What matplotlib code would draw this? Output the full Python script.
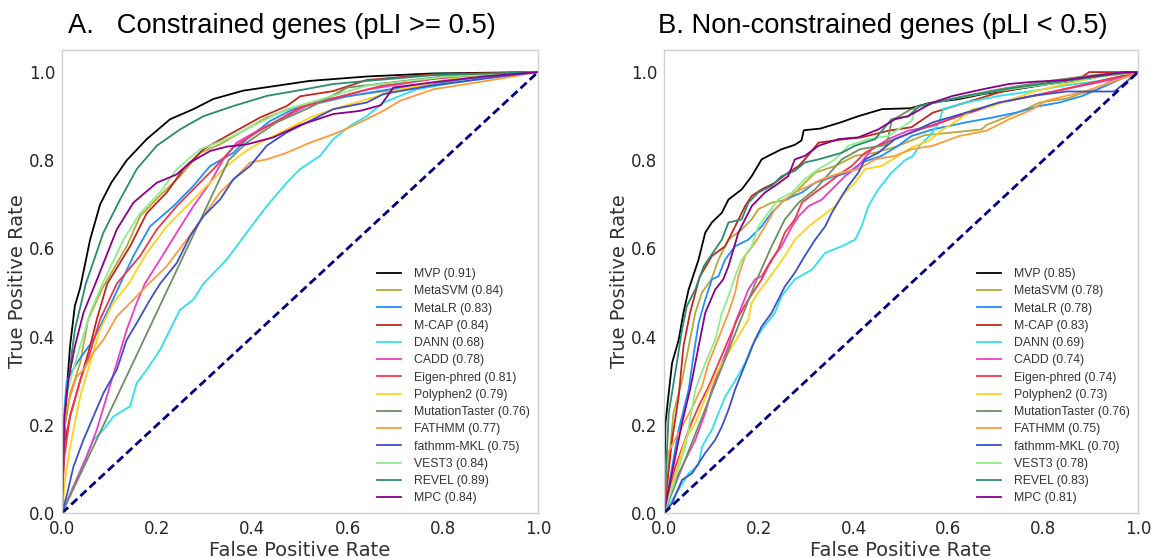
import matplotlib
matplotlib.use("Agg")
import matplotlib.pyplot as plt

# method names and AUCs shown in the legends
methods = ["MVP", "MetaSVM", "MetaLR", "M-CAP", "DANN", "CADD", "Eigen-phred",
           "Polyphen2", "MutationTaster", "FATHMM", "fathmm-MKL", "VEST3", "REVEL", "MPC"]
auc_a = [0.91, 0.84, 0.83, 0.84, 0.68, 0.78, 0.81, 0.79, 0.76, 0.77, 0.75, 0.84, 0.89, 0.84]
auc_b = [0.85, 0.78, 0.78, 0.83, 0.69, 0.74, 0.74, 0.73, 0.76, 0.75, 0.70, 0.78, 0.83, 0.81]

# ---- panel A: constrained genes ----
a_mvp_x = [0, 0.004, 0.01, 0.017, 0.027, 0.038, 0.059, 0.08, 0.104, 0.136, 0.178, 0.227, 0.276, 0.318, 0.381, 0.451, 0.52, 0.64, 0.78, 1.0]
a_mvp_y = [0, 0.15, 0.28, 0.38, 0.47, 0.51, 0.62, 0.70, 0.75, 0.80, 0.848, 0.893, 0.916, 0.939, 0.958, 0.969, 0.98, 0.99, 0.997, 1.0]
a_metasvm_x = [0, 0.004, 0.017, 0.038, 0.055, 0.085, 0.136, 0.164, 0.206, 0.248, 0.29, 0.332, 0.381, 0.43, 0.486, 0.56, 0.71, 0.85, 1.0]
a_metasvm_y = [0, 0.18, 0.27, 0.34, 0.439, 0.51, 0.605, 0.673, 0.72, 0.764, 0.817, 0.836, 0.867, 0.897, 0.92, 0.94, 0.961, 0.985, 1.0]
a_metalr_x = [0, 0.004, 0.01, 0.031, 0.066, 0.094, 0.118, 0.15, 0.185, 0.234, 0.276, 0.311, 0.36, 0.388, 0.437, 0.486, 0.6, 0.71, 0.85, 0.95, 1.0]
a_metalr_y = [0, 0.22, 0.30, 0.34, 0.393, 0.454, 0.51, 0.583, 0.65, 0.696, 0.742, 0.787, 0.817, 0.848, 0.889, 0.916, 0.945, 0.965, 0.985, 0.995, 1.0]
a_mcap_x = [0, 0.004, 0.017, 0.038, 0.059, 0.073, 0.095, 0.143, 0.178, 0.22, 0.255, 0.297, 0.346, 0.416, 0.472, 0.5, 0.57, 0.64, 0.78, 1.0]
a_mcap_y = [0, 0.15, 0.22, 0.30, 0.378, 0.439, 0.52, 0.605, 0.68, 0.727, 0.78, 0.825, 0.855, 0.897, 0.923, 0.945, 0.957, 0.982, 0.995, 1.0]
a_dann_x = [0, 0.066, 0.087, 0.108, 0.143, 0.157, 0.178, 0.206, 0.227, 0.248, 0.276, 0.297, 0.346, 0.388, 0.43, 0.472, 0.5, 0.542, 0.57, 0.605, 0.64, 0.675, 0.71, 0.745, 0.82, 0.92, 1.0]
a_dann_y = [0, 0.166, 0.189, 0.219, 0.242, 0.295, 0.325, 0.37, 0.416, 0.461, 0.484, 0.52, 0.575, 0.636, 0.696, 0.749, 0.78, 0.81, 0.848, 0.878, 0.90, 0.931, 0.946, 0.961, 0.975, 0.99, 1.0]
a_cadd_x = [0, 0.024, 0.052, 0.073, 0.094, 0.115, 0.136, 0.157, 0.174, 0.206, 0.241, 0.276, 0.311, 0.339, 0.367, 0.416, 0.472, 0.521, 0.64, 0.78, 0.92, 1.0]
a_cadd_y = [0, 0.06, 0.128, 0.189, 0.264, 0.34, 0.416, 0.477, 0.52, 0.575, 0.636, 0.696, 0.749, 0.802, 0.84, 0.87, 0.90, 0.927, 0.96, 0.985, 0.995, 1.0]
a_eigen_x = [0, 0.004, 0.017, 0.038, 0.059, 0.08, 0.115, 0.164, 0.199, 0.241, 0.283, 0.318, 0.36, 0.402, 0.451, 0.5, 0.675, 0.82, 1.0]
a_eigen_y = [0, 0.12, 0.22, 0.30, 0.364, 0.439, 0.52, 0.583, 0.643, 0.696, 0.742, 0.78, 0.829, 0.859, 0.889, 0.92, 0.97, 0.99, 1.0]
a_polyphen_x = [0, 0.007, 0.017, 0.038, 0.059, 0.08, 0.108, 0.14, 0.178, 0.22, 0.262, 0.304, 0.346, 0.381, 0.416, 0.472, 0.521, 0.57, 0.64, 0.71, 0.82, 1.0]
a_polyphen_y = [0, 0.08, 0.15, 0.264, 0.34, 0.416, 0.477, 0.52, 0.59, 0.65, 0.696, 0.742, 0.787, 0.817, 0.84, 0.87, 0.897, 0.916, 0.938, 0.961, 0.985, 1.0]
a_mt_x = [0, 0.35, 0.388, 0.451, 0.521, 0.6, 0.8, 1.0]
a_mt_y = [0, 0.80, 0.84, 0.886, 0.92, 0.965, 0.99, 1.0]
a_fathmm_x = [0, 0.002, 0.007, 0.017, 0.031, 0.045, 0.066, 0.087, 0.115, 0.15, 0.182, 0.22, 0.262, 0.297, 0.332, 0.367, 0.395, 0.43, 0.472, 0.521, 0.57, 0.605, 0.675, 0.71, 0.78, 0.85, 0.92, 1.0]
a_fathmm_y = [0, 0.15, 0.23, 0.264, 0.31, 0.325, 0.364, 0.393, 0.446, 0.484, 0.52, 0.56, 0.62, 0.673, 0.727, 0.764, 0.795, 0.802, 0.817, 0.84, 0.859, 0.875, 0.912, 0.935, 0.961, 0.973, 0.985, 1.0]
a_mkl_x = [0, 0.01, 0.024, 0.045, 0.066, 0.087, 0.115, 0.136, 0.157, 0.185, 0.206, 0.241, 0.269, 0.297, 0.332, 0.36, 0.395, 0.43, 0.472, 0.5, 0.57, 0.64, 0.675, 0.71, 0.78, 0.92, 1.0]
a_mkl_y = [0, 0.04, 0.105, 0.166, 0.219, 0.272, 0.325, 0.393, 0.431, 0.484, 0.52, 0.567, 0.628, 0.673, 0.711, 0.757, 0.787, 0.833, 0.863, 0.878, 0.916, 0.931, 0.95, 0.957, 0.97, 0.99, 1.0]
a_vest3_x = [0, 0.004, 0.017, 0.038, 0.059, 0.085, 0.129, 0.164, 0.206, 0.241, 0.29, 0.346, 0.416, 0.472, 0.521, 0.64, 0.81, 1.0]
a_vest3_y = [0, 0.23, 0.30, 0.378, 0.454, 0.52, 0.62, 0.68, 0.727, 0.78, 0.825, 0.848, 0.886, 0.916, 0.931, 0.969, 0.99, 1.0]
a_revel_x = [0, 0.003, 0.013, 0.027, 0.05, 0.087, 0.122, 0.157, 0.199, 0.248, 0.297, 0.36, 0.43, 0.51, 0.57, 0.64, 0.78, 1.0]
a_revel_y = [0, 0.2, 0.3, 0.416, 0.52, 0.636, 0.711, 0.78, 0.833, 0.87, 0.90, 0.923, 0.946, 0.961, 0.973, 0.98, 0.993, 1.0]
a_mpc_x = [0, 0.005, 0.013, 0.027, 0.045, 0.07, 0.115, 0.15, 0.199, 0.241, 0.269, 0.311, 0.346, 0.388, 0.444, 0.5, 0.57, 0.626, 0.67, 0.696, 0.78, 0.885, 1.0]
a_mpc_y = [0, 0.22, 0.30, 0.378, 0.454, 0.52, 0.643, 0.704, 0.749, 0.768, 0.795, 0.821, 0.831, 0.836, 0.852, 0.88, 0.905, 0.912, 0.925, 0.965, 0.977, 0.99, 1.0]

# ---- panel B: non-constrained genes ----
b_mvp_x = [0, 0.003, 0.017, 0.031, 0.041, 0.052, 0.073, 0.087, 0.101, 0.122, 0.136, 0.164, 0.185, 0.206, 0.22, 0.248, 0.276, 0.29, 0.295, 0.33, 0.37, 0.41, 0.46, 0.52, 0.56, 0.623, 0.672, 0.742, 0.813, 0.897, 0.94, 1.0]
b_mvp_y = [0, 0.204, 0.34, 0.393, 0.454, 0.507, 0.575, 0.636, 0.659, 0.681, 0.711, 0.734, 0.764, 0.802, 0.81, 0.825, 0.835, 0.845, 0.868, 0.872, 0.885, 0.90, 0.916, 0.918, 0.93, 0.939, 0.95, 0.961, 0.973, 0.985, 0.995, 1.0]
b_metasvm_x = [0, 0.02, 0.038, 0.052, 0.066, 0.08, 0.1, 0.115, 0.136, 0.164, 0.185, 0.199, 0.227, 0.262, 0.291, 0.319, 0.361, 0.403, 0.445, 0.487, 0.55, 0.6, 0.67, 0.68, 0.72, 0.763, 0.792, 0.85, 0.876, 0.915, 0.95, 1.0]
b_metasvm_y = [0, 0.227, 0.30, 0.378, 0.454, 0.50, 0.53, 0.575, 0.62, 0.643, 0.666, 0.689, 0.704, 0.711, 0.742, 0.772, 0.787, 0.81, 0.817, 0.83, 0.857, 0.862, 0.87, 0.88, 0.897, 0.916, 0.931, 0.94, 0.95, 0.961, 0.985, 1.0]
b_metalr_x = [0, 0.031, 0.052, 0.063, 0.073, 0.087, 0.101, 0.115, 0.129, 0.15, 0.178, 0.206, 0.227, 0.255, 0.291, 0.319, 0.361, 0.389, 0.417, 0.459, 0.494, 0.522, 0.567, 0.637, 0.693, 0.742, 0.792, 0.834, 0.883, 0.932, 0.975, 1.0]
b_metalr_y = [0, 0.189, 0.28, 0.363, 0.431, 0.484, 0.53, 0.537, 0.575, 0.605, 0.62, 0.65, 0.681, 0.711, 0.727, 0.749, 0.764, 0.772, 0.795, 0.81, 0.833, 0.855, 0.87, 0.886, 0.897, 0.908, 0.923, 0.931, 0.946, 0.969, 0.99, 1.0]
b_mcap_x = [0, 0.017, 0.031, 0.041, 0.055, 0.075, 0.101, 0.129, 0.15, 0.171, 0.185, 0.206, 0.234, 0.262, 0.284, 0.297, 0.326, 0.382, 0.417, 0.473, 0.522, 0.567, 0.637, 0.707, 0.778, 0.883, 0.897, 1.0]
b_mcap_y = [0, 0.166, 0.264, 0.378, 0.454, 0.535, 0.583, 0.605, 0.65, 0.696, 0.719, 0.734, 0.749, 0.772, 0.787, 0.802, 0.84, 0.848, 0.852, 0.867, 0.875, 0.908, 0.931, 0.954, 0.969, 0.99, 1.0, 1.0]
b_dann_x = [0, 0.052, 0.073, 0.08, 0.101, 0.115, 0.129, 0.15, 0.171, 0.185, 0.206, 0.234, 0.248, 0.276, 0.312, 0.34, 0.375, 0.403, 0.417, 0.431, 0.452, 0.48, 0.508, 0.525, 0.539, 0.56, 0.581, 0.588, 0.637, 0.707, 0.778, 0.848, 0.918, 0.99, 1.0]
b_dann_y = [0, 0.09, 0.109, 0.15, 0.189, 0.227, 0.264, 0.30, 0.34, 0.378, 0.416, 0.454, 0.492, 0.53, 0.552, 0.59, 0.605, 0.62, 0.65, 0.696, 0.734, 0.772, 0.80, 0.81, 0.833, 0.855, 0.886, 0.916, 0.931, 0.946, 0.957, 0.97, 0.98, 0.995, 1.0]
b_cadd_x = [0, 0.017, 0.038, 0.066, 0.087, 0.101, 0.122, 0.136, 0.15, 0.164, 0.178, 0.192, 0.206, 0.227, 0.248, 0.27, 0.284, 0.305, 0.333, 0.354, 0.382, 0.41, 0.438, 0.473, 0.515, 0.567, 0.637, 0.707, 0.813, 0.918, 0.975, 1.0]
b_cadd_y = [0, 0.06, 0.105, 0.166, 0.227, 0.28, 0.34, 0.378, 0.431, 0.469, 0.507, 0.53, 0.537, 0.575, 0.605, 0.65, 0.673, 0.696, 0.711, 0.734, 0.764, 0.787, 0.825, 0.848, 0.867, 0.878, 0.908, 0.931, 0.954, 0.977, 0.99, 1.0]
b_eigen_x = [0, 0.024, 0.052, 0.073, 0.094, 0.115, 0.136, 0.157, 0.178, 0.206, 0.22, 0.241, 0.255, 0.276, 0.291, 0.319, 0.347, 0.375, 0.396, 0.424, 0.452, 0.487, 0.522, 0.567, 0.637, 0.707, 0.813, 0.92, 1.0]
b_eigen_y = [0, 0.105, 0.189, 0.242, 0.287, 0.34, 0.393, 0.446, 0.484, 0.53, 0.56, 0.598, 0.636, 0.666, 0.704, 0.727, 0.749, 0.772, 0.787, 0.817, 0.833, 0.848, 0.863, 0.88, 0.905, 0.93, 0.954, 0.98, 1.0]
b_polyphen_x = [0, 0.024, 0.045, 0.066, 0.08, 0.094, 0.115, 0.136, 0.157, 0.178, 0.185, 0.199, 0.22, 0.255, 0.276, 0.305, 0.333, 0.361, 0.382, 0.403, 0.424, 0.459, 0.494, 0.522, 0.56, 0.588, 0.623, 0.651, 0.693, 0.778, 0.834, 0.92, 1.0]
b_polyphen_y = [0, 0.09, 0.166, 0.204, 0.242, 0.28, 0.325, 0.363, 0.401, 0.439, 0.477, 0.50, 0.53, 0.583, 0.62, 0.65, 0.673, 0.696, 0.727, 0.749, 0.78, 0.787, 0.81, 0.829, 0.845, 0.87, 0.893, 0.916, 0.923, 0.955, 0.97, 0.99, 1.0]
b_mt_x = [0, 0.192, 0.227, 0.255, 0.284, 0.319, 0.375, 0.413, 0.47, 0.48, 0.52, 0.567, 0.707, 0.813, 0.92, 1.0]
b_mt_y = [0, 0.52, 0.605, 0.666, 0.704, 0.734, 0.802, 0.825, 0.835, 0.89, 0.915, 0.931, 0.961, 0.98, 0.995, 1.0]
b_fathmm_x = [0, 0.006, 0.01, 0.038, 0.06, 0.08, 0.094, 0.108, 0.122, 0.136, 0.15, 0.157, 0.171, 0.192, 0.213, 0.234, 0.255, 0.276, 0.305, 0.333, 0.375, 0.41, 0.445, 0.487, 0.522, 0.567, 0.623, 0.68, 0.728, 0.778, 0.806, 0.848, 0.89, 0.932, 0.98, 1.0]
b_fathmm_y = [0, 0.12, 0.14, 0.196, 0.24, 0.287, 0.34, 0.378, 0.416, 0.454, 0.50, 0.537, 0.583, 0.613, 0.65, 0.689, 0.711, 0.727, 0.742, 0.757, 0.772, 0.78, 0.802, 0.81, 0.825, 0.833, 0.855, 0.867, 0.893, 0.916, 0.935, 0.946, 0.957, 0.973, 0.99, 1.0]
b_mkl_x = [0, 0.017, 0.038, 0.059, 0.087, 0.108, 0.122, 0.136, 0.15, 0.164, 0.178, 0.192, 0.206, 0.227, 0.241, 0.255, 0.276, 0.297, 0.319, 0.34, 0.354, 0.375, 0.389, 0.41, 0.424, 0.452, 0.487, 0.522, 0.567, 0.637, 0.707, 0.778, 0.848, 0.95, 1.0]
b_mkl_y = [0, 0.022, 0.075, 0.09, 0.136, 0.166, 0.196, 0.234, 0.28, 0.318, 0.355, 0.393, 0.423, 0.454, 0.484, 0.514, 0.545, 0.583, 0.62, 0.65, 0.681, 0.719, 0.742, 0.772, 0.802, 0.817, 0.848, 0.863, 0.886, 0.908, 0.931, 0.946, 0.956, 0.956, 1.0]
b_vest3_x = [0, 0.045, 0.066, 0.087, 0.108, 0.122, 0.136, 0.15, 0.164, 0.185, 0.199, 0.22, 0.241, 0.27, 0.297, 0.326, 0.361, 0.389, 0.431, 0.473, 0.494, 0.522, 0.532, 0.602, 0.707, 0.813, 0.92, 1.0]
b_vest3_y = [0, 0.15, 0.28, 0.34, 0.393, 0.454, 0.492, 0.537, 0.575, 0.605, 0.65, 0.681, 0.711, 0.727, 0.757, 0.78, 0.802, 0.833, 0.848, 0.855, 0.87, 0.889, 0.92, 0.938, 0.958, 0.973, 0.99, 1.0]
b_revel_x = [0, 0.01, 0.027, 0.038, 0.048, 0.066, 0.084, 0.108, 0.122, 0.136, 0.164, 0.178, 0.199, 0.227, 0.248, 0.276, 0.297, 0.326, 0.375, 0.403, 0.445, 0.48, 0.515, 0.539, 0.637, 0.742, 0.848, 0.95, 1.0]
b_revel_y = [0, 0.227, 0.34, 0.416, 0.469, 0.507, 0.56, 0.598, 0.62, 0.659, 0.666, 0.704, 0.727, 0.742, 0.764, 0.776, 0.795, 0.802, 0.817, 0.833, 0.848, 0.893, 0.90, 0.923, 0.946, 0.965, 0.98, 0.995, 1.0]
b_mpc_x = [0, 0.038, 0.055, 0.066, 0.073, 0.087, 0.108, 0.125, 0.136, 0.157, 0.185, 0.213, 0.234, 0.262, 0.276, 0.297, 0.326, 0.368, 0.41, 0.452, 0.487, 0.515, 0.567, 0.609, 0.672, 0.728, 0.778, 0.848, 0.9, 0.97, 1.0]
b_mpc_y = [0, 0.204, 0.28, 0.34, 0.378, 0.454, 0.507, 0.53, 0.56, 0.636, 0.696, 0.727, 0.742, 0.764, 0.802, 0.81, 0.833, 0.848, 0.852, 0.87, 0.893, 0.90, 0.931, 0.946, 0.961, 0.973, 0.978, 0.982, 0.99, 1.0, 1.0]

colors = ["black", "#b8a83a", "#1e8fff", "#c0281e", "#2ee0ee", "#f03cc8", "#f0384a",
          "#ffd21a", "#6f8f62", "#ff9a3c", "#3d50c8", "#8eee8e", "#2a8c6e", "#8b008b"]

curves_a = [(a_mvp_x, a_mvp_y), (a_metasvm_x, a_metasvm_y), (a_metalr_x, a_metalr_y),
            (a_mcap_x, a_mcap_y), (a_dann_x, a_dann_y), (a_cadd_x, a_cadd_y),
            (a_eigen_x, a_eigen_y), (a_polyphen_x, a_polyphen_y), (a_mt_x, a_mt_y),
            (a_fathmm_x, a_fathmm_y), (a_mkl_x, a_mkl_y), (a_vest3_x, a_vest3_y),
            (a_revel_x, a_revel_y), (a_mpc_x, a_mpc_y)]
curves_b = [(b_mvp_x, b_mvp_y), (b_metasvm_x, b_metasvm_y), (b_metalr_x, b_metalr_y),
            (b_mcap_x, b_mcap_y), (b_dann_x, b_dann_y), (b_cadd_x, b_cadd_y),
            (b_eigen_x, b_eigen_y), (b_polyphen_x, b_polyphen_y), (b_mt_x, b_mt_y),
            (b_fathmm_x, b_fathmm_y), (b_mkl_x, b_mkl_y), (b_vest3_x, b_vest3_y),
            (b_revel_x, b_revel_y), (b_mpc_x, b_mpc_y)]


def draw_panel(ax, curves, aucs, title):
    for name, (fx, ty), auc, col in zip(methods, curves, aucs, colors):
        ax.plot(fx, ty, color=col, lw=1.3, label="%s (%.2f)" % (name, auc))
    ax.plot([0, 1], [0, 1], color="navy", lw=2, ls="--", dashes=(3, 1.5))
    ax.set_xlim(0, 1)
    ax.set_ylim(0, 1.05)
    ax.set_xticks([0, 0.2, 0.4, 0.6, 0.8, 1.0])
    ax.set_yticks([0, 0.2, 0.4, 0.6, 0.8, 1.0])
    ax.tick_params(length=0, labelsize=12, colors="#262626", pad=5)
    for s in ax.spines.values():
        s.set_color("#d0d0d0")
        s.set_linewidth(1)
    ax.set_xlabel("False Positive Rate", fontsize=14, color="#333333", labelpad=2)
    ax.set_ylabel("True Positive Rate", fontsize=14, color="#333333", labelpad=1)
    ax.set_title(title, fontsize=19.7, family="Liberation Sans", x=0.462, pad=12)
    leg = ax.legend(loc="lower right", frameon=False, prop={"family": "Liberation Sans", "size": 8.8},
                    handlelength=2.0, labelspacing=0.43, borderaxespad=0.3, handletextpad=1.0)
    for t in leg.get_texts():
        t.set_color("#333333")


fig = plt.figure(figsize=(11.57, 5.58), dpi=100)
ax1 = fig.add_axes([0.0536, 0.0806, 0.4114, 0.8297])
ax2 = fig.add_axes([0.5739, 0.0806, 0.4097, 0.8297])
draw_panel(ax1, curves_a, auc_a, "A.   Constrained genes (pLI >= 0.5)")
draw_panel(ax2, curves_b, auc_b, "B. Non-constrained genes (pLI < 0.5)")

fig.savefig("out.png", dpi=100)
